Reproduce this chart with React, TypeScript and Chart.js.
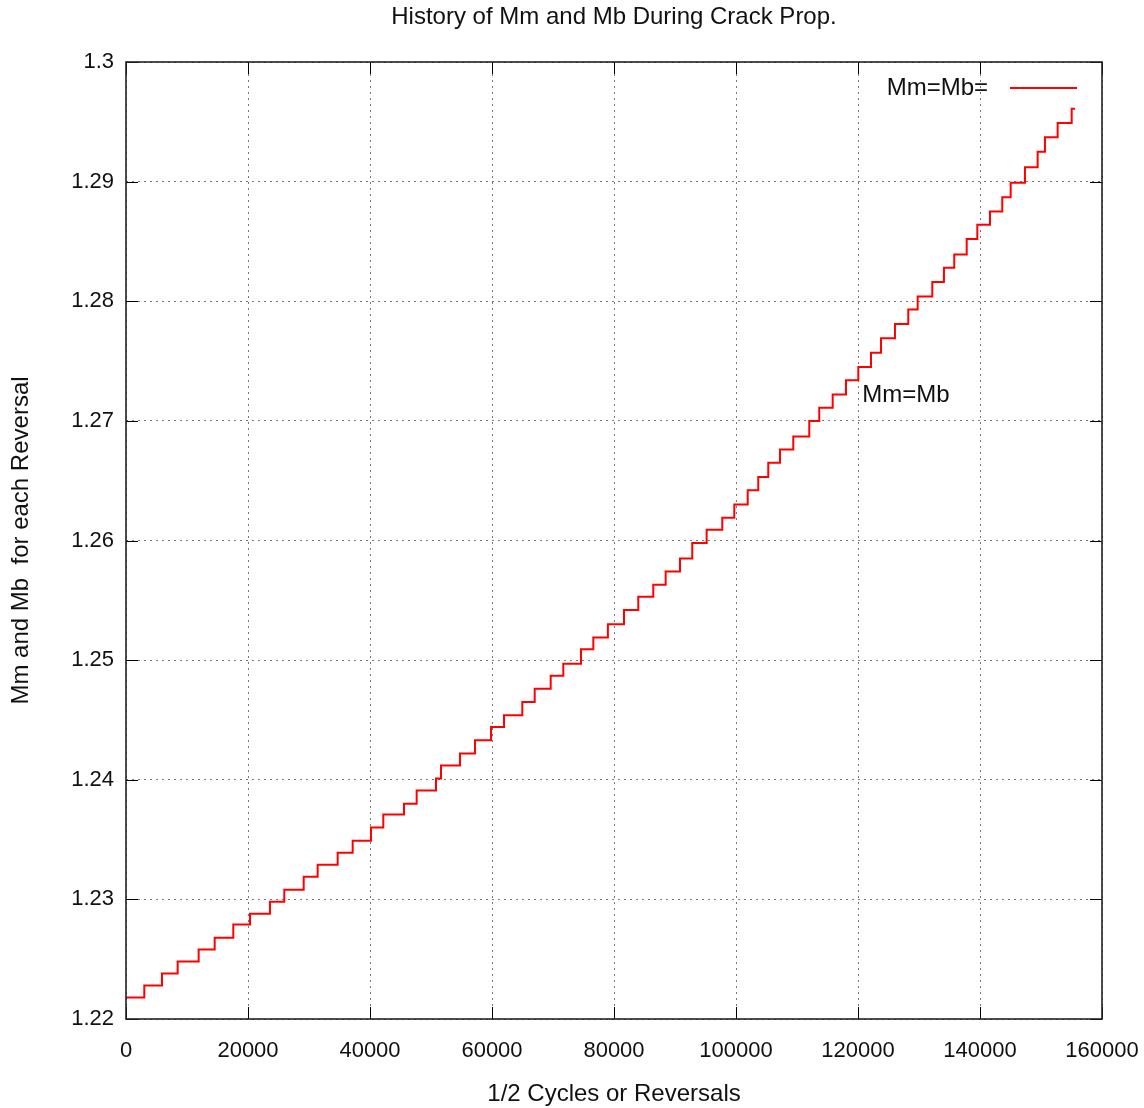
import React, { useEffect, useRef } from "react";
import { Chart, registerables } from "chart.js";

Chart.register(...registerables);

const TITLE = "History of Mm and Mb During Crack Prop.";
const X_TITLE = "1/2 Cycles or Reversals";
const Y_TITLE = "Mm and Mb  for each Reversal";
const SERIES_LABEL = "Mm=Mb=";
const ANNOTATION_TEXT = "Mm=Mb";
const ANNOTATION_AT = [120700, 1.2721];

// half cycles where each step begins
const cycles = [
  0, 3000, 5900, 8470, 11910, 14540, 17590, 20330, 23600, 25950,
  29130, 31420, 34700, 37160, 40160, 42180, 45570, 47650, 50820, 51640,
  54750, 57210, 59840, 61970, 64970, 67000, 69620, 71690, 74590, 76610,
  79000, 81640, 83980, 86440, 88470, 90820, 92830, 95190, 97750, 99720,
  101920, 103650, 105290, 107210, 109390, 112010, 113650, 115850, 118030, 120050,
  122130, 123770, 126060, 128240, 129780, 132180, 134090, 135780, 137820, 139560,
  141640, 143650, 145030, 147370, 149450, 150650, 152730, 155030, 155570,
];

// Mm = Mb value for each step
const mmValues = [
  1.2218, 1.2228, 1.2238, 1.2248, 1.2258, 1.2268, 1.2279, 1.2288, 1.2298, 1.2308,
  1.2319, 1.2329, 1.2339, 1.2349, 1.236, 1.2371, 1.238, 1.2391, 1.2401, 1.2412,
  1.2422, 1.2433, 1.2444, 1.2454, 1.2465, 1.2476, 1.2487, 1.2497, 1.2509, 1.2519,
  1.253, 1.2542, 1.2553, 1.2563, 1.2574, 1.2585, 1.2598, 1.2609, 1.2619, 1.263,
  1.2642, 1.2653, 1.2665, 1.2676, 1.2687, 1.27, 1.2711, 1.2722, 1.2734, 1.2745,
  1.2757, 1.2769, 1.2781, 1.2793, 1.2804, 1.2816, 1.2828, 1.2839, 1.2852, 1.2864,
  1.2875, 1.2887, 1.2899, 1.2912, 1.2925, 1.2937, 1.2949, 1.2961, 1.2961,
];

const xTicks = [0, 20000, 40000, 60000, 80000, 100000, 120000, 140000, 160000];
const yTicks = [1.22, 1.23, 1.24, 1.25, 1.26, 1.27, 1.28, 1.29, 1.3];

const FONT_FAMILY = "'Liberation Sans', Arial, sans-serif";
const LINE_COLOR = "#ff0000";

const gnuplotDecor = {
  id: "gnuplotDecor",
  afterDatasetsDraw(chart: any) {
    const { ctx, chartArea: a, scales } = chart;
    const xs = scales.x;
    const ys = scales.y;
    const tl = 12;
    ctx.save();
    ctx.strokeStyle = "#000";
    ctx.lineWidth = 1;
    ctx.setLineDash([]);
    ctx.beginPath();
    xs.ticks.forEach((t: any) => {
      const px = Math.round(xs.getPixelForValue(t.value)) + 0.5;
      ctx.moveTo(px, a.bottom);
      ctx.lineTo(px, a.bottom - tl);
      ctx.moveTo(px, a.top);
      ctx.lineTo(px, a.top + tl);
    });
    ys.ticks.forEach((t: any) => {
      const py = Math.round(ys.getPixelForValue(t.value)) + 0.5;
      ctx.moveTo(a.left, py);
      ctx.lineTo(a.left + tl, py);
      ctx.moveTo(a.right, py);
      ctx.lineTo(a.right - tl, py);
    });
    ctx.stroke();
    ctx.lineWidth = 1.6;
    ctx.strokeStyle = "#222";
    ctx.strokeRect(a.left, a.top, a.right - a.left, a.bottom - a.top);

    // key (legend) gnuplot-style: text then line sample
    const ky = a.top + 26;
    ctx.font = `24px ${FONT_FAMILY}`;
    ctx.fillStyle = "#111";
    ctx.textAlign = "right";
    ctx.textBaseline = "middle";
    ctx.fillText(chart.data.datasets[0].label, a.right - 114, ky);
    ctx.strokeStyle = LINE_COLOR;
    ctx.lineWidth = 2;
    ctx.beginPath();
    ctx.moveTo(a.right - 92, ky);
    ctx.lineTo(a.right - 25, ky);
    ctx.stroke();

    // annotation label
    ctx.textAlign = "left";
    ctx.fillText(
      ANNOTATION_TEXT,
      xs.getPixelForValue(ANNOTATION_AT[0]),
      ys.getPixelForValue(ANNOTATION_AT[1])
    );
    ctx.restore();
  },
};

export default function App() {
  const ref = useRef<HTMLCanvasElement | null>(null);
  useEffect(() => {
    if (!ref.current) return;
    const points = cycles.map((c, i) => ({ x: c, y: mmValues[i] }));
    const chart = new Chart(ref.current, {
      type: "line",
      data: {
        datasets: [
          {
            label: SERIES_LABEL,
            data: points,
            borderColor: LINE_COLOR,
            backgroundColor: LINE_COLOR,
            borderWidth: 2,
            pointRadius: 0,
            stepped: "before",
            fill: false,
          },
        ],
      },
      options: {
        animation: false,
        responsive: false,
        maintainAspectRatio: false,
        layout: { padding: { left: 0, right: 42, top: 0, bottom: 0 } },
        plugins: {
          legend: { display: false },
          tooltip: { enabled: false },
          title: {
            display: true,
            text: TITLE,
            fullSize: false,
            color: "#111",
            font: { family: FONT_FAMILY, size: 24, weight: "normal", lineHeight: 1.2 },
            padding: { top: 3, bottom: 30.2 },
          },
        },
        scales: {
          x: {
            type: "linear",
            min: 0,
            max: 160000,
            afterBuildTicks: (s: any) => {
              s.ticks = xTicks.map((v) => ({ value: v }));
            },
            afterFit: (s: any) => {
              s.height = 89;
              s.paddingLeft = 0;
              s.paddingRight = 0;
            },
            ticks: {
              autoSkip: false,
              maxRotation: 0,
              minRotation: 0,
              padding: 19,
              color: "#111",
              font: { family: FONT_FAMILY, size: 22 },
              callback: (v: any) => String(v),
            },
            grid: { color: "#777", lineWidth: 1, drawTicks: false },
            border: { display: false, dash: [2, 4] },
            title: {
              display: true,
              text: X_TITLE,
              color: "#111",
              font: { family: FONT_FAMILY, size: 24, lineHeight: 1.1 },
              padding: { top: 0, bottom: 0 },
            },
          },
          y: {
            type: "linear",
            min: 1.22,
            max: 1.3,
            afterBuildTicks: (s: any) => {
              s.ticks = yTicks.map((v) => ({ value: v }));
            },
            afterFit: (s: any) => {
              s.width = 126;
              s.paddingTop = 0;
              s.paddingBottom = 0;
            },
            ticks: {
              autoSkip: false,
              padding: 12,
              color: "#111",
              font: { family: FONT_FAMILY, size: 22 },
              callback: (v: any) => String(parseFloat(Number(v).toFixed(2))),
            },
            grid: { color: "#777", lineWidth: 1, drawTicks: false },
            border: { display: false, dash: [2, 4] },
            title: {
              display: true,
              text: Y_TITLE,
              color: "#111",
              font: { family: FONT_FAMILY, size: 24 },
              padding: { top: 7, bottom: 0 },
            },
          },
        },
      },
      plugins: [gnuplotDecor],
    });
    return () => chart.destroy();
  }, []);
  return (
    <div style={{ position: "absolute", left: 0, top: 0, width: 1144, height: 1108, background: "#fff" }}>
      <canvas ref={ref} width={1144} height={1108} style={{ display: "block" }} />
    </div>
  );
}
